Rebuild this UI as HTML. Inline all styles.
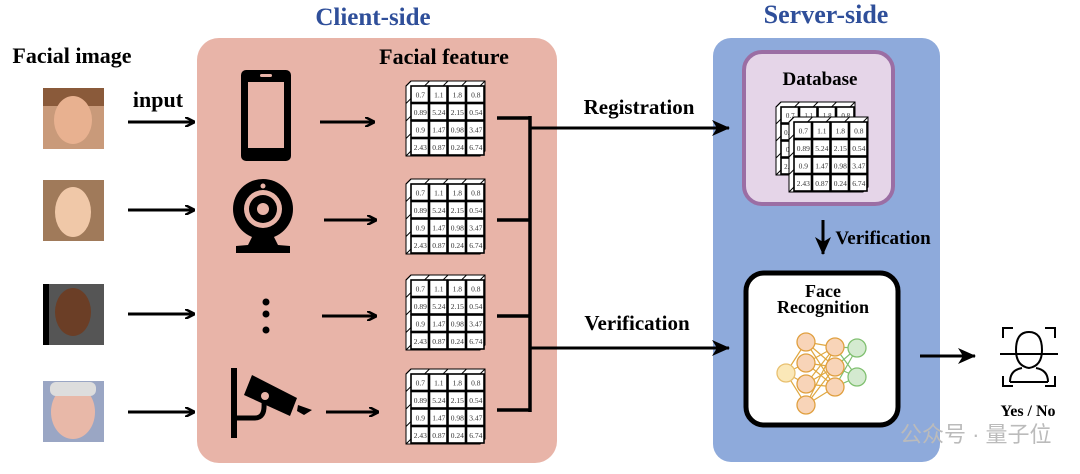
<!DOCTYPE html>
<html><head><meta charset="utf-8"><style>
body{margin:0;background:#fff;width:1080px;height:474px;overflow:hidden}
svg{display:block}
text{font-family:"Liberation Serif",serif}
</style></head><body>
<svg id="s" width="1080" height="474" viewBox="0 0 1080 474" xmlns="http://www.w3.org/2000/svg">
<defs>
<marker id="ah" markerWidth="10" markerHeight="10" refX="9" refY="5" orient="auto" markerUnits="userSpaceOnUse"><path d="M0,0 L10,5 L0,10" fill="none" stroke="#000" stroke-width="2.5"/></marker>
<marker id="af" markerWidth="18" markerHeight="16" refX="17" refY="8" orient="auto" markerUnits="userSpaceOnUse"><path d="M0,0 L18,8 L0,16 L5,8z" fill="#000"/></marker>
</defs>
<rect x="197" y="38" width="360" height="425" rx="22" fill="#e8b4a8"/>
<rect x="713" y="38" width="227" height="424" rx="18" fill="#8eaadb"/>
<rect x="744" y="52" width="149" height="152" rx="18" fill="#e5d5e8" stroke="#9b6ea4" stroke-width="4"/>
<rect x="746" y="273" width="152" height="152" rx="18" fill="#fff" stroke="#000" stroke-width="5"/>
<text x="373" y="25" font-size="25" font-weight="bold" fill="#2f4f9a" text-anchor="middle">Client-side</text>
<text x="826" y="23" font-size="26" font-weight="bold" fill="#2f4f9a" text-anchor="middle">Server-side</text>
<text x="72" y="63" font-size="22" font-weight="bold" text-anchor="middle">Facial image</text>
<text x="158" y="107" font-size="22" font-weight="bold" text-anchor="middle">input</text>
<text x="444" y="64" font-size="22" font-weight="bold" text-anchor="middle">Facial feature</text>
<text x="639" y="114" font-size="21" font-weight="bold" text-anchor="middle">Registration</text>
<text x="637" y="330" font-size="21" font-weight="bold" text-anchor="middle">Verification</text>
<text x="820" y="85" font-size="19" font-weight="bold" text-anchor="middle">Database</text>
<text x="883" y="244" font-size="19" font-weight="bold" text-anchor="middle">Verification</text>
<text x="823" y="297" font-size="18" font-weight="bold" text-anchor="middle">Face</text>
<text x="823" y="313" font-size="18" font-weight="bold" text-anchor="middle">Recognition</text>
<text x="1028" y="416" font-size="16" font-weight="bold" text-anchor="middle">Yes / No</text>
<g>
<rect x="43" y="88" width="61" height="61" fill="#c99a7a"/><rect x="43" y="88" width="61" height="18" fill="#8a5a3a"/><ellipse cx="73" cy="120" rx="19" ry="24" fill="#e8b190"/>
<rect x="43" y="180" width="61" height="61" fill="#a07a5a"/><ellipse cx="73" cy="212" rx="18" ry="25" fill="#f0c8a8"/>
<rect x="43" y="284" width="61" height="61" fill="#555"/><rect x="43" y="284" width="6" height="61" fill="#000"/><ellipse cx="73" cy="312" rx="18" ry="24" fill="#6b3e26"/>
<rect x="43" y="381" width="61" height="61" fill="#9aa6c4"/><ellipse cx="73" cy="412" rx="22" ry="27" fill="#e8b8a8"/><rect x="50" y="382" width="46" height="14" fill="#ddd" rx="6"/>
</g>
<g stroke="#000" stroke-width="3" fill="none" marker-end="url(#ah)">
<line x1="128" y1="122" x2="194" y2="122"/><line x1="128" y1="210" x2="194" y2="210"/><line x1="128" y1="314" x2="194" y2="314"/><line x1="128" y1="412" x2="194" y2="412"/>
<line x1="320" y1="122" x2="374" y2="122"/><line x1="324" y1="220" x2="376" y2="220"/><line x1="322" y1="316" x2="376" y2="316"/><line x1="326" y1="412" x2="378" y2="412"/>
</g>
<rect x="241" y="70" width="50" height="91" rx="5" fill="#000"/><rect x="248" y="82" width="36" height="66" fill="#e8b4a8"/><rect x="260" y="74" width="12" height="3" rx="1.5" fill="#e8b4a8"/>
<circle cx="263" cy="209" r="30" fill="#000"/><circle cx="263" cy="209" r="19" fill="#e8b4a8"/><circle cx="263" cy="209" r="14" fill="#000"/><circle cx="263" cy="209" r="6" fill="#e8b4a8"/><circle cx="263" cy="186" r="2.5" fill="#e8b4a8"/>
<path d="M252,237 L274,237 L278,245 L290,246 L290,253 L236,253 L236,246 L248,245z" fill="#000"/>
<circle cx="266" cy="302" r="3.5"/><circle cx="266" cy="314" r="3.5"/><circle cx="266" cy="330" r="3.5"/>
<rect x="231" y="368" width="6" height="70" fill="#000"/><path d="M237,418 L255,418 Q265,418 264,403" fill="none" stroke="#000" stroke-width="5"/>
<path d="M252,375 L297,398 L290,416 L244,395z" fill="#000"/><circle cx="265" cy="396" r="4" fill="#e8b4a8"/><path d="M298,405 L312,410 L304,415 L297,411z" fill="#000"/>
<g id="mats"></g>
<g stroke="#000" stroke-width="3.5" fill="none">
<polyline points="497,118 530,118"/><polyline points="497,220 530,220"/><polyline points="497,316 530,316"/><polyline points="497,410 530,410"/>
<line x1="530" y1="116" x2="530" y2="412"/>
</g>
<g stroke="#000" stroke-width="3" fill="none" marker-end="url(#af)">
<line x1="530" y1="128" x2="729" y2="128"/><line x1="530" y1="348" x2="729" y2="348"/>
<line x1="920" y1="356" x2="975" y2="356"/>
<line x1="823" y1="220" x2="823" y2="254"/>
</g>
<g id="nn"></g>
<g stroke="#000" stroke-width="2" fill="none">
<path d="M1003,338 v-10 h10 M1045,328 h10 v10 M1003,376 v10 h10 M1045,386 h10 v-10"/>
<path d="M1016,350 q0,-18 13,-18 q13,0 13,18 q0,16 -13,18 q-13,-2 -13,-18z"/>
<path d="M1010,382 q0,-12 12,-14 M1048,382 q0,-12 -12,-14 M1010,382 h38"/>
<line x1="1000" y1="354" x2="1058" y2="354"/>
</g>
<text x="900" y="442" font-size="22" fill="#bbb" style="font-family:'Liberation Sans','Noto Sans CJK SC',sans-serif">公众号 · 量子位</text>
</svg>
<script>
var NS="http://www.w3.org/2000/svg",g=document.getElementById('mats');
var vals=[["0.7","1.1","1.8","0.8"],["0.89","5.24","2.15","0.54"],["0.9","1.47","0.98","3.47"],["2.43","0.87","0.24","6.74"]];
function el(t,a,p){var e=document.createElementNS(NS,t);for(var k in a)e.setAttribute(k,a[k]);(p||g).appendChild(e);return e;}
function mat(x,y,w,h,fs){var cw=w/4,ch=h/4,d=5;
 el('path',{d:'M'+(x)+','+(y)+' l'+d+','+(-d)+' h'+w+' v'+h+' l'+(-d)+','+d+' h'+(-w)+'z',fill:'#fff',stroke:'#000','stroke-width':1});
 for(var i=0;i<=4;i++){el('line',{x1:x+d+i*cw,y1:y-d,x2:x+i*cw,y2:y,stroke:'#000','stroke-width':1});}
 for(var j=0;j<=4;j++){el('line',{x1:x,y1:y+j*ch,x2:x+d,y2:y+j*ch-d,stroke:'#000','stroke-width':1});}
 for(var r=0;r<4;r++)for(var c=0;c<4;c++){el('rect',{x:x+d+c*cw,y:y+r*ch,width:cw-1,height:ch-1,fill:'#fff',stroke:'#000','stroke-width':1.6});
 var t=el('text',{x:x+d+c*cw+cw/2,y:y+r*ch+ch/2+fs/3,'font-size':fs,'text-anchor':'middle',fill:'#333'});t.textContent=vals[r][c];}}
mat(406,86,74,70,7.5);mat(406,184,74,70,7.5);mat(406,280,74,70,7.5);mat(406,374,74,70,7.5);
mat(776,107,74,68,7);
mat(789,122,74,70,7.5);
var nn=document.getElementById('nn');
var L=[[[786,373]],[[806,342],[806,363],[806,384],[806,405]],[[835,347],[835,367],[835,387]],[[857,348],[857,377]]];
var cols=[['#fbe8b8','#e8c070'],['#f8d4b8','#e0a040'],['#f8d4b8','#e0a040'],['#d4ead0','#80c070']];
for(var a=0;a<3;a++)for(var i=0;i<L[a].length;i++)for(var j=0;j<L[a+1].length;j++)el('line',{x1:L[a][i][0],y1:L[a][i][1],x2:L[a+1][j][0],y2:L[a+1][j][1],stroke:a==2?'#80c070':'#e0a840','stroke-width':1.2},nn);
for(var a=0;a<4;a++)for(var i=0;i<L[a].length;i++)el('circle',{cx:L[a][i][0],cy:L[a][i][1],r:9,fill:cols[a][0],stroke:cols[a][1],'stroke-width':1.3},nn);
</script>
</body></html>
